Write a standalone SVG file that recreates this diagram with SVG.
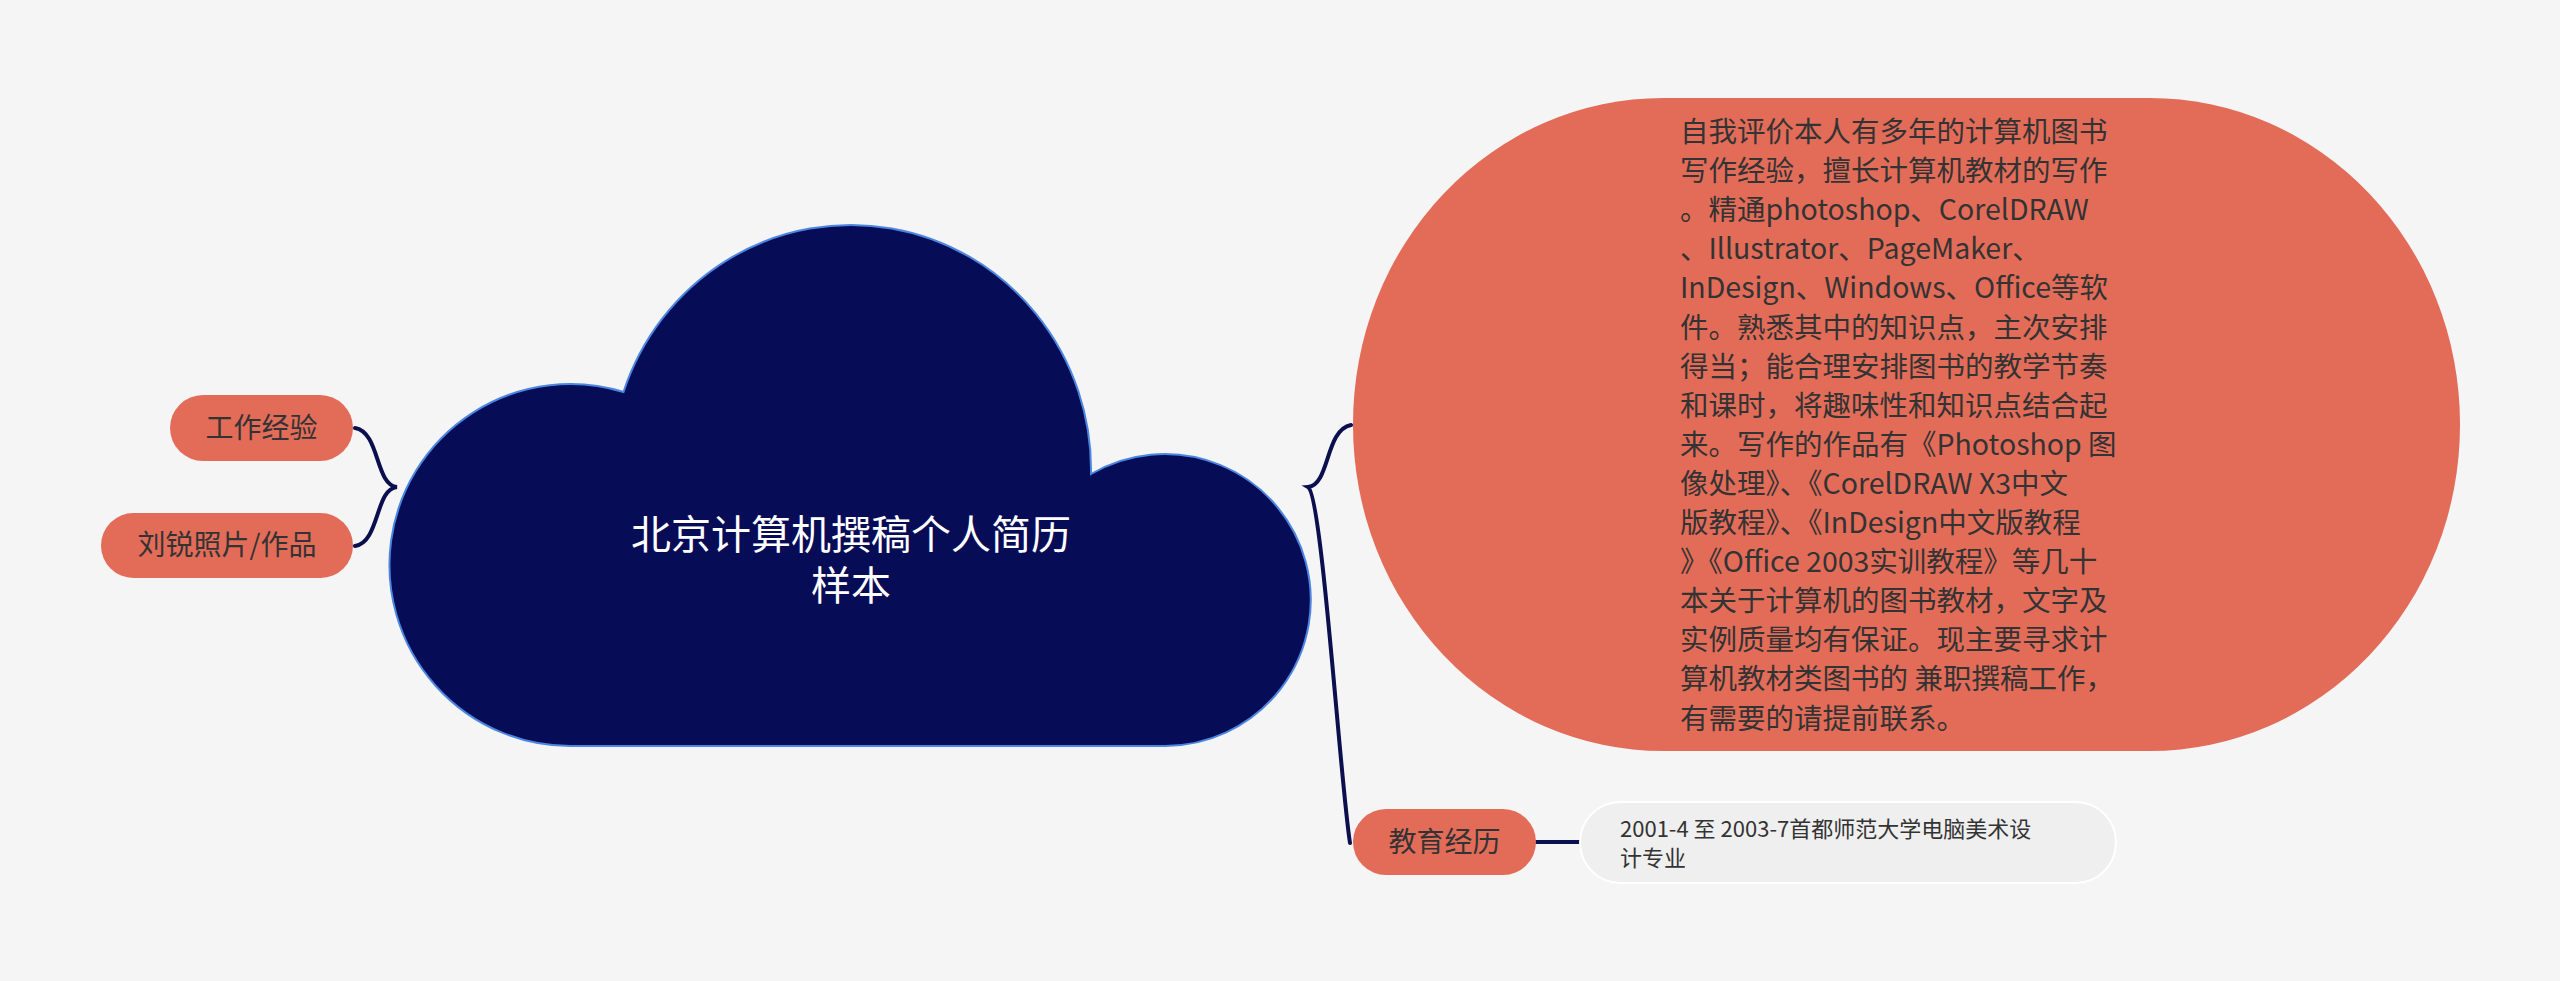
<svg xmlns="http://www.w3.org/2000/svg" width="2560" height="981" viewBox="0 0 2560 981">
<style>
.conn{fill:none;stroke:#0b0f4e;stroke-width:4;stroke-linecap:round}
.pill{fill:#e36c59}
.t{font-family:"Noto Sans CJK SC","Microsoft YaHei",sans-serif;fill:#333333}
.ctr{text-anchor:middle}
</style>
<rect width="2560" height="981" fill="#f5f5f5"/>
<g id="connectors">
<path class="conn" d="M355,428 C380,432 375,485 397,487 C375,489 380,542 355,546"/>
<path class="conn" d="M1351,425 C1325,430 1330,485 1308,487 C1322,495 1340,780 1350,843"/>
<path class="conn" d="M1536,842 L1580,842"/>
</g>
<g id="root">
<path d="M575,746 A181,181 0 1 1 623.5,392 A240,245 0 0 1 1091,474 A146,146 0 1 1 1165,746 Z" fill="#070c57" stroke="#4d86e0" stroke-width="2"/>
<text class="t ctr" x="851" y="549" font-size="40" style="fill:#ffffff">北京计算机撰稿个人简历</text>
<text class="t ctr" x="851" y="600" font-size="40" style="fill:#ffffff">样本</text>
</g>
<g id="n-work">
<rect class="pill" x="170" y="395" width="183" height="66" rx="33"/>
<text class="t ctr" x="261.5" y="438" font-size="28">工作经验</text>
</g>
<g id="n-photo">
<rect class="pill" x="101" y="513" width="252" height="65" rx="32.5"/>
<text class="t ctr" x="227" y="555" font-size="28">刘锐照片/作品</text>
</g>
<g id="n-self">
<rect class="pill" x="1353" y="98" width="1107" height="653" rx="310" ry="326"/>
<text class="t" x="1680" font-size="28.5">
<tspan x="1680" y="142">自我评价本人有多年的计算机图书</tspan>
<tspan x="1680" y="181.1">写作经验，擅长计算机教材的写作</tspan>
<tspan x="1680" y="220.2">。精通photoshop、CorelDRAW</tspan>
<tspan x="1680" y="259.3">、Illustrator、PageMaker、</tspan>
<tspan x="1680" y="298.4">InDesign、Windows、Office等软</tspan>
<tspan x="1680" y="337.5">件。熟悉其中的知识点，主次安排</tspan>
<tspan x="1680" y="376.6">得当；能合理安排图书的教学节奏</tspan>
<tspan x="1680" y="415.7">和课时，将趣味性和知识点结合起</tspan>
<tspan x="1680" y="454.8">来。写作的作品有《Photoshop 图</tspan>
<tspan x="1680" y="493.9">像处理》、《CorelDRAW X3中文</tspan>
<tspan x="1680" y="533">版教程》、《InDesign中文版教程</tspan>
<tspan x="1680" y="572.1">》《Office 2003实训教程》等几十</tspan>
<tspan x="1680" y="611.2">本关于计算机的图书教材，文字及</tspan>
<tspan x="1680" y="650.3">实例质量均有保证。现主要寻求计</tspan>
<tspan x="1680" y="689.4">算机教材类图书的 兼职撰稿工作，</tspan>
<tspan x="1680" y="728.5">有需要的请提前联系。</tspan>
</text>
</g>
<g id="n-edu">
<rect class="pill" x="1353" y="809" width="183" height="66" rx="33"/>
<text class="t ctr" x="1444.5" y="852" font-size="28">教育经历</text>
</g>
<g id="n-edu-detail">
<rect x="1580" y="802" width="536" height="81" rx="40.5" fill="#efefef" stroke="#ffffff" stroke-width="2"/>
<text class="t" font-size="22">
<tspan x="1620" y="837">2001-4 至 2003-7首都师范大学电脑美术设</tspan>
<tspan x="1620" y="866">计专业</tspan>
</text>
</g>
</svg>
